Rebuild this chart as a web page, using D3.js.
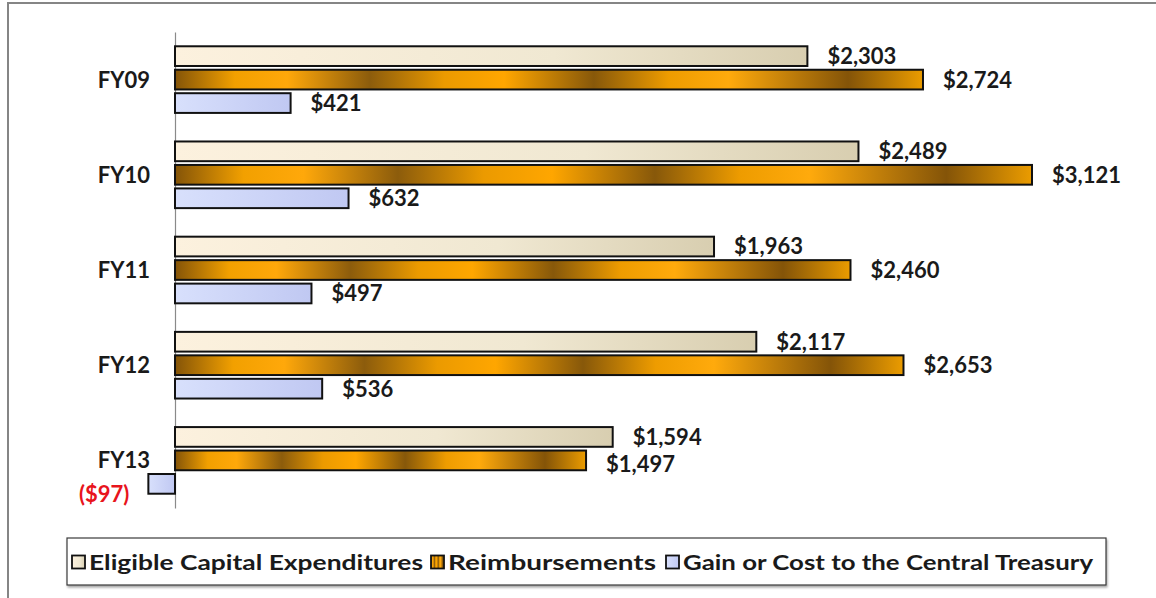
<!DOCTYPE html>
<html>
<head>
<meta charset="utf-8">
<script src="https://cdn.jsdelivr.net/npm/d3@7"></script>
<style>
  html, body { margin: 0; padding: 0; background: #fff; }
  svg { display: block; font-family: Lato, "Open Sans", sans-serif; }
</style>
</head>
<body>
<svg id="chart" width="1156" height="598"></svg>
<script>
// Capital program by fiscal year ($ millions)
const years = ["FY09", "FY10", "FY11", "FY12", "FY13"];
const seriesNames = ["Eligible Capital Expenditures", "Reimbursements", "Gain or Cost to the Central Treasury"];
const eligible = [2303, 2489, 1963, 2117, 1594];
const reimbursements = [2724, 3121, 2460, 2653, 1497];
const gainOrCost = [421, 632, 497, 536, -97];

const seriesValues = [eligible, reimbursements, gainOrCost];
const fills = ["url(#gEligible)", "url(#gReimb)", "url(#gGain)"];

const svg = d3.select("#chart");
const defs = svg.append("defs");

// cream fill
const g1 = defs.append("linearGradient").attr("id", "gEligible")
  .attr("x1", 0).attr("y1", 0).attr("x2", 1).attr("y2", 0);
[[0, "#fcf1de"], [0.6, "#f0e8d2"], [1, "#d8ceb0"]].forEach(s =>
  g1.append("stop").attr("offset", s[0]).attr("stop-color", s[1]));

// metallic gold fill
const g2 = defs.append("linearGradient").attr("id", "gReimb")
  .attr("x1", 0).attr("y1", 0).attr("x2", 1).attr("y2", 0);
[[0, "#845408"], [0.08, "#f2a000"], [0.15, "#ffa80a"], [0.26, "#8c5c0c"],
 [0.36, "#eb9a00"], [0.44, "#ffa600"], [0.56, "#87580a"], [0.66, "#ee9c00"],
 [0.74, "#ffaa0c"], [0.9, "#845408"], [1, "#eb9c00"]].forEach(s =>
  g2.append("stop").attr("offset", s[0]).attr("stop-color", s[1]));

// lavender fill
const g3 = defs.append("linearGradient").attr("id", "gGain")
  .attr("x1", 0).attr("y1", 0).attr("x2", 1).attr("y2", 0);
[[0, "#d8e0fc"], [1, "#c0c8f2"]].forEach(s =>
  g3.append("stop").attr("offset", s[0]).attr("stop-color", s[1]));

const shadow = defs.append("filter").attr("id", "legendShadow")
  .attr("x", "-2%").attr("y", "-20%").attr("width", "104%").attr("height", "150%");
shadow.append("feDropShadow").attr("dx", 1).attr("dy", 2).attr("stdDeviation", 1.2)
  .attr("flood-color", "#000").attr("flood-opacity", 0.35);

// outer frame
svg.append("path").attr("d", "M8,598 V3 H1156")
  .attr("fill", "none").attr("stroke", "#858585").attr("stroke-width", 2);

// scales
const x = d3.scaleLinear().domain([0, 3121]).range([175, 1032]);
const y = d3.scaleBand().domain(years).range([32, 508]).paddingInner(0.3).paddingOuter(0.15);
const ySub = d3.scaleBand().domain(d3.range(3)).range([0, y.bandwidth()]).paddingInner(0.16);

const fmt = v => v < 0 ? "($" + d3.format(",")(-v) + ")" : "$" + d3.format(",")(v);

// category axis
const yAxis = d3.axisLeft(y).tickSize(0).tickPadding(25);
const axisG = svg.append("g").attr("transform", `translate(${x(0)},0)`).call(yAxis);
axisG.select(".domain").attr("stroke", "#8a8a8a").attr("stroke-width", 1.2);
axisG.selectAll(".tick text")
  .attr("font-family", "Lato, sans-serif").attr("font-size", 22).attr("font-weight", 700)
  .attr("fill", "#1a1a1a").attr("dy", "0.36em");

// bars
const rows = [];
years.forEach((yr, i) => seriesValues.forEach((vals, s) => rows.push({ yr, s, v: vals[i] })));

const barG = svg.append("g");
barG.selectAll("rect").data(rows).join("rect")
  .attr("x", d => Math.min(x(0), x(d.v)))
  .attr("y", d => y(d.yr) + ySub(d.s))
  .attr("width", d => Math.abs(x(d.v) - x(0)))
  .attr("height", ySub.bandwidth())
  .attr("fill", d => fills[d.s])
  .attr("stroke", "#111").attr("stroke-width", 2);

// value labels
const labels = barG.selectAll("text").data(rows).join("text")
  .attr("x", d => d.v < 0 ? x(d.v) - 19 : x(d.v) + 20)
  .attr("y", d => y(d.yr) + ySub(d.s) + ySub.bandwidth() / 2 + (d.v < 0 ? 10 : 0))
  .attr("dy", "0.36em")
  .attr("text-anchor", d => d.v < 0 ? "end" : "start")
  .attr("font-size", 22).attr("font-weight", 700)
  .attr("fill", d => d.v < 0 ? "#e8141c" : "#1a1a1a")
  .text(d => fmt(d.v));

// nudge a label down when it collides with the one above it in the same group
const nodes = labels.nodes();
for (let k = 1; k < nodes.length; k++) {
  const a = nodes[k - 1].getBBox(), b = nodes[k].getBBox();
  const sameGroup = rows[k - 1].yr === rows[k].yr;
  const overlapX = a.x < b.x + b.width && b.x < a.x + a.width;
  const overlapY = b.y < a.y + a.height;
  if (sameGroup && overlapX && overlapY) {
    const shift = a.y + a.height - b.y + 0.5;
    d3.select(nodes[k]).attr("y", +nodes[k].getAttribute("y") + shift);
  }
}

// legend
const legend = svg.append("g");
legend.append("rect").attr("x", 67).attr("y", 538).attr("width", 1039).attr("height", 47)
  .attr("fill", "#fff").attr("stroke", "#3a3a3a").attr("stroke-width", 1.2)
  .attr("filter", "url(#legendShadow)");
const legendX = [72, 431, 666];
const legendW = [334, 208, 410];
seriesNames.forEach((name, i) => {
  const g = legend.append("g").attr("transform", `translate(${legendX[i]},562)`);
  g.append("rect").attr("x", 0).attr("y", -6.5).attr("width", 13).attr("height", 13)
    .attr("fill", fills[i]).attr("stroke", "#111").attr("stroke-width", 1.8);
  g.append("text").attr("x", 17).attr("dy", "0.36em")
    .attr("font-size", 21).attr("font-weight", 700).attr("fill", "#1a1a1a")
    .attr("textLength", legendW[i]).attr("lengthAdjust", "spacingAndGlyphs")
    .text(name);
});
</script>
</body>
</html>
